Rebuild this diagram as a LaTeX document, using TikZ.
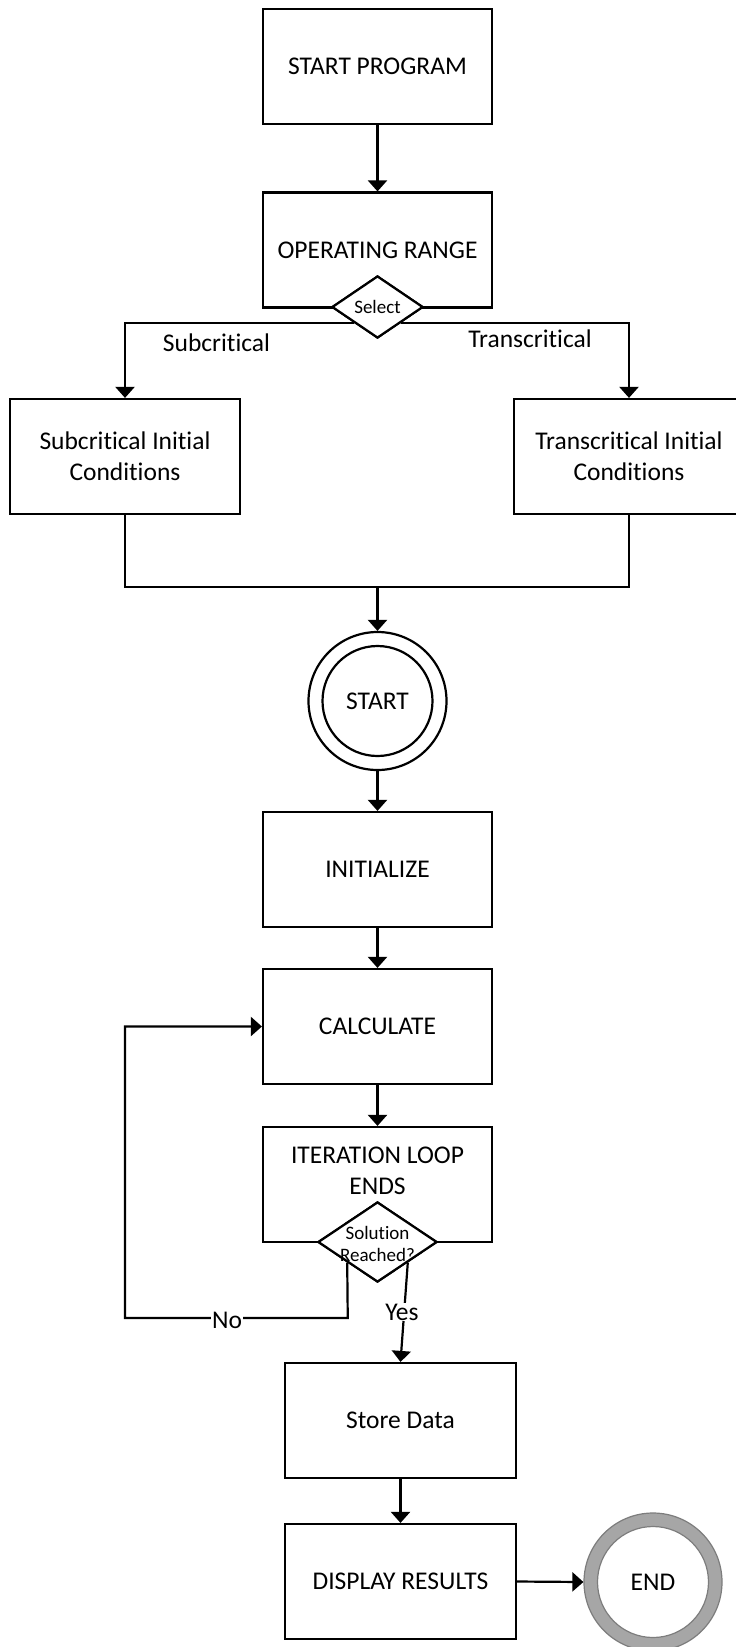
\documentclass[tikz,border=0pt]{standalone}
\usepackage{fontspec}
\setmainfont{Carlito}[Ligatures={NoCommon,NoContextual}]
\usetikzlibrary{shapes.geometric,arrows.meta}
\definecolor{ringfill}{RGB}{166,166,166}
\definecolor{ringline}{RGB}{125,125,125}
\begin{document}
\begin{tikzpicture}[x=1pt,y=-1pt,
  box/.style={draw, line width=2.2pt, minimum width=229pt, minimum height=115pt, align=center,
              font=\fontsize{25.5}{31}\selectfont, inner sep=0pt, fill=white},
  txt/.style={align=center, font=\fontsize{25.5}{31}\selectfont, inner sep=0pt},
  dia/.style={draw, diamond, line width=2.2pt, fill=white, inner sep=0pt},
  conn/.style={line width=2.2pt},
  arr/.style={conn, -{Triangle[width=19pt,length=11pt]}},
  lbl/.style={font=\fontsize{25.5}{31}\selectfont, inner sep=1pt},
  small/.style={font=\fontsize{19}{22}\selectfont, align=center, inner sep=0pt}
]
\useasboundingbox (0,0) rectangle (736,1647);
\clip (0,0) rectangle (736,1647);

% top part
\node[box] (sp) at (377.5,66.5) {START PROGRAM};
\node[box] (or) at (377.5,250) {OPERATING RANGE};
\node[dia, minimum width=91pt, minimum height=62pt] (sel) at (377.5,307) {};
\node[small] (seltxt) at (sel.center) {Select};

\node[box, minimum width=230pt] (sub) at (125,456.5) {Subcritical Initial\\Conditions};
\node[box, minimum width=230pt] (tra) at (629,456.5) {Transcritical Initial\\Conditions};

\node[lbl] (sublbl) at (216.5,343) {Subcritical};
\node[lbl] (tralbl) at (530,339) {Transcritical};

% start circle
\node[circle, draw, line width=2.2pt, minimum size=138pt, inner sep=0pt] (starto) at (377.5,701) {};
\node[circle, draw, line width=2.2pt, minimum size=110pt, inner sep=0pt, font=\fontsize{25.5}{31}\selectfont] (start) at (starto.center) {START};
\coordinate (m) at (377.5,587);

% middle column
\node[box] (init) at (377.5,869.5) {INITIALIZE};
\node[box] (calc) at (377.5,1026.5) {CALCULATE};
\node[box] (iter) at (377.5,1184.5) {};
\node[txt] (itertxt) at (377.5,1171) {ITERATION LOOP\\ENDS};
\node[dia, minimum width=119pt, minimum height=80pt] (sol) at (377.5,1242) {};
\node[small] (soltxt) at (377.5,1244) {Solution\\Reached?};

\node[box, minimum width=231pt] (store) at (400.5,1420.5) {Store Data};
\node[box, minimum width=231pt] (disp) at (400.5,1581.5) {DISPLAY RESULTS};

% end circle
\node[circle, draw=ringline, fill=ringfill, line width=1.2pt, minimum size=138pt, inner sep=0pt] (endo) at (653,1582) {};
\node[circle, draw=ringline, fill=white, line width=1.2pt, minimum size=111pt, inner sep=0pt, font=\fontsize{25.5}{31}\selectfont] (end) at (endo.center) {END};

% connectors
\draw[arr] (sp.south) -- (or.north);
\draw[arr] (sel.south west) -| (sub.north);
\draw[arr] (sel.south east) -| (tra.north);
\draw[conn] (sub.south) |- (m) -| (tra.south);
\draw[arr] (m) -- (starto.north);
\draw[arr] (starto.south) -- (init.north);
\draw[arr] (init.south) -- (calc.north);
\draw[arr] (calc.south) -- (iter.north);
\coordinate (nocorner) at (347.75,1318);
\coordinate (loopcorner) at (125,1318);
\draw[arr] (sol.south west) -- (nocorner) -- (loopcorner) |- (calc.west);
\node[lbl, fill=white] (nolbl) at (227,1320) {No};
\draw[arr] (sol.south east) -- (store.north);
\node[lbl, fill=white] (yeslbl) at (402,1312) {Yes};
\draw[arr] (store.south) -- (disp.north);
\draw[arr] (disp.east) -- (endo.west);

% redraw diamonds over the lines
\node[dia, minimum width=91pt, minimum height=62pt] at (377.5,307) {};
\node[small] at (377.5,307) {Select};
\node[dia, minimum width=119pt, minimum height=80pt] at (377.5,1242) {};
\node[small] at (377.5,1244) {Solution\\Reached?};
\end{tikzpicture}
\end{document}
